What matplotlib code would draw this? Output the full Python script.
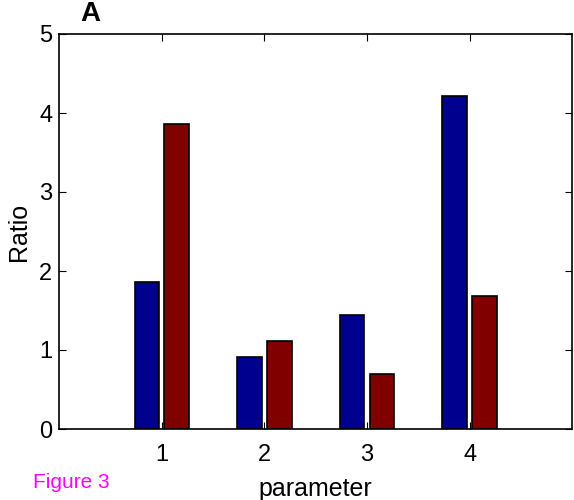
import matplotlib
matplotlib.use("Agg")
import matplotlib.pyplot as plt
import numpy as np

plt.rcParams['font.family'] = ['Liberation Sans', 'DejaVu Sans']

params = [1, 2, 3, 4]
series_a = [1.86, 0.91, 1.44, 4.21]
series_b = [3.86, 1.12, 0.70, 1.68]
yticks = [0, 1, 2, 3, 4, 5]

fig = plt.figure(figsize=(5.74, 5.00), dpi=100)
ax = fig.add_axes([0.103, 0.142, 0.894, 0.79])

x = np.array(params)
w = 0.24
ax.bar(x - 0.145, series_a, w, color='#00008f', edgecolor='black', linewidth=1.2)
ax.bar(x + 0.145, series_b, w, color='#800000', edgecolor='black', linewidth=1.2)

ax.set_xlim(0, 5)
ax.set_ylim(0, 5)
ax.set_xticks(params)
ax.set_yticks(yticks)
ax.tick_params(direction='in', top=True, right=True, labelsize=17, length=5)
ax.tick_params(axis='x', pad=10.5)
ax.tick_params(axis='y', pad=5)
for s in ax.spines.values():
    s.set_linewidth(1.2)

ax.set_xlabel('parameter', fontsize=18, labelpad=8)
ax.set_ylabel('Ratio', fontsize=18, labelpad=6)

fig.text(0.158, 0.972, 'A', fontsize=20, fontweight='bold', ha='center', va='center')
fig.text(0.057, 0.034, 'Figure 3', fontsize=15, color='#ff00ff', ha='left', va='center')

fig.savefig('out.png', dpi=100)
